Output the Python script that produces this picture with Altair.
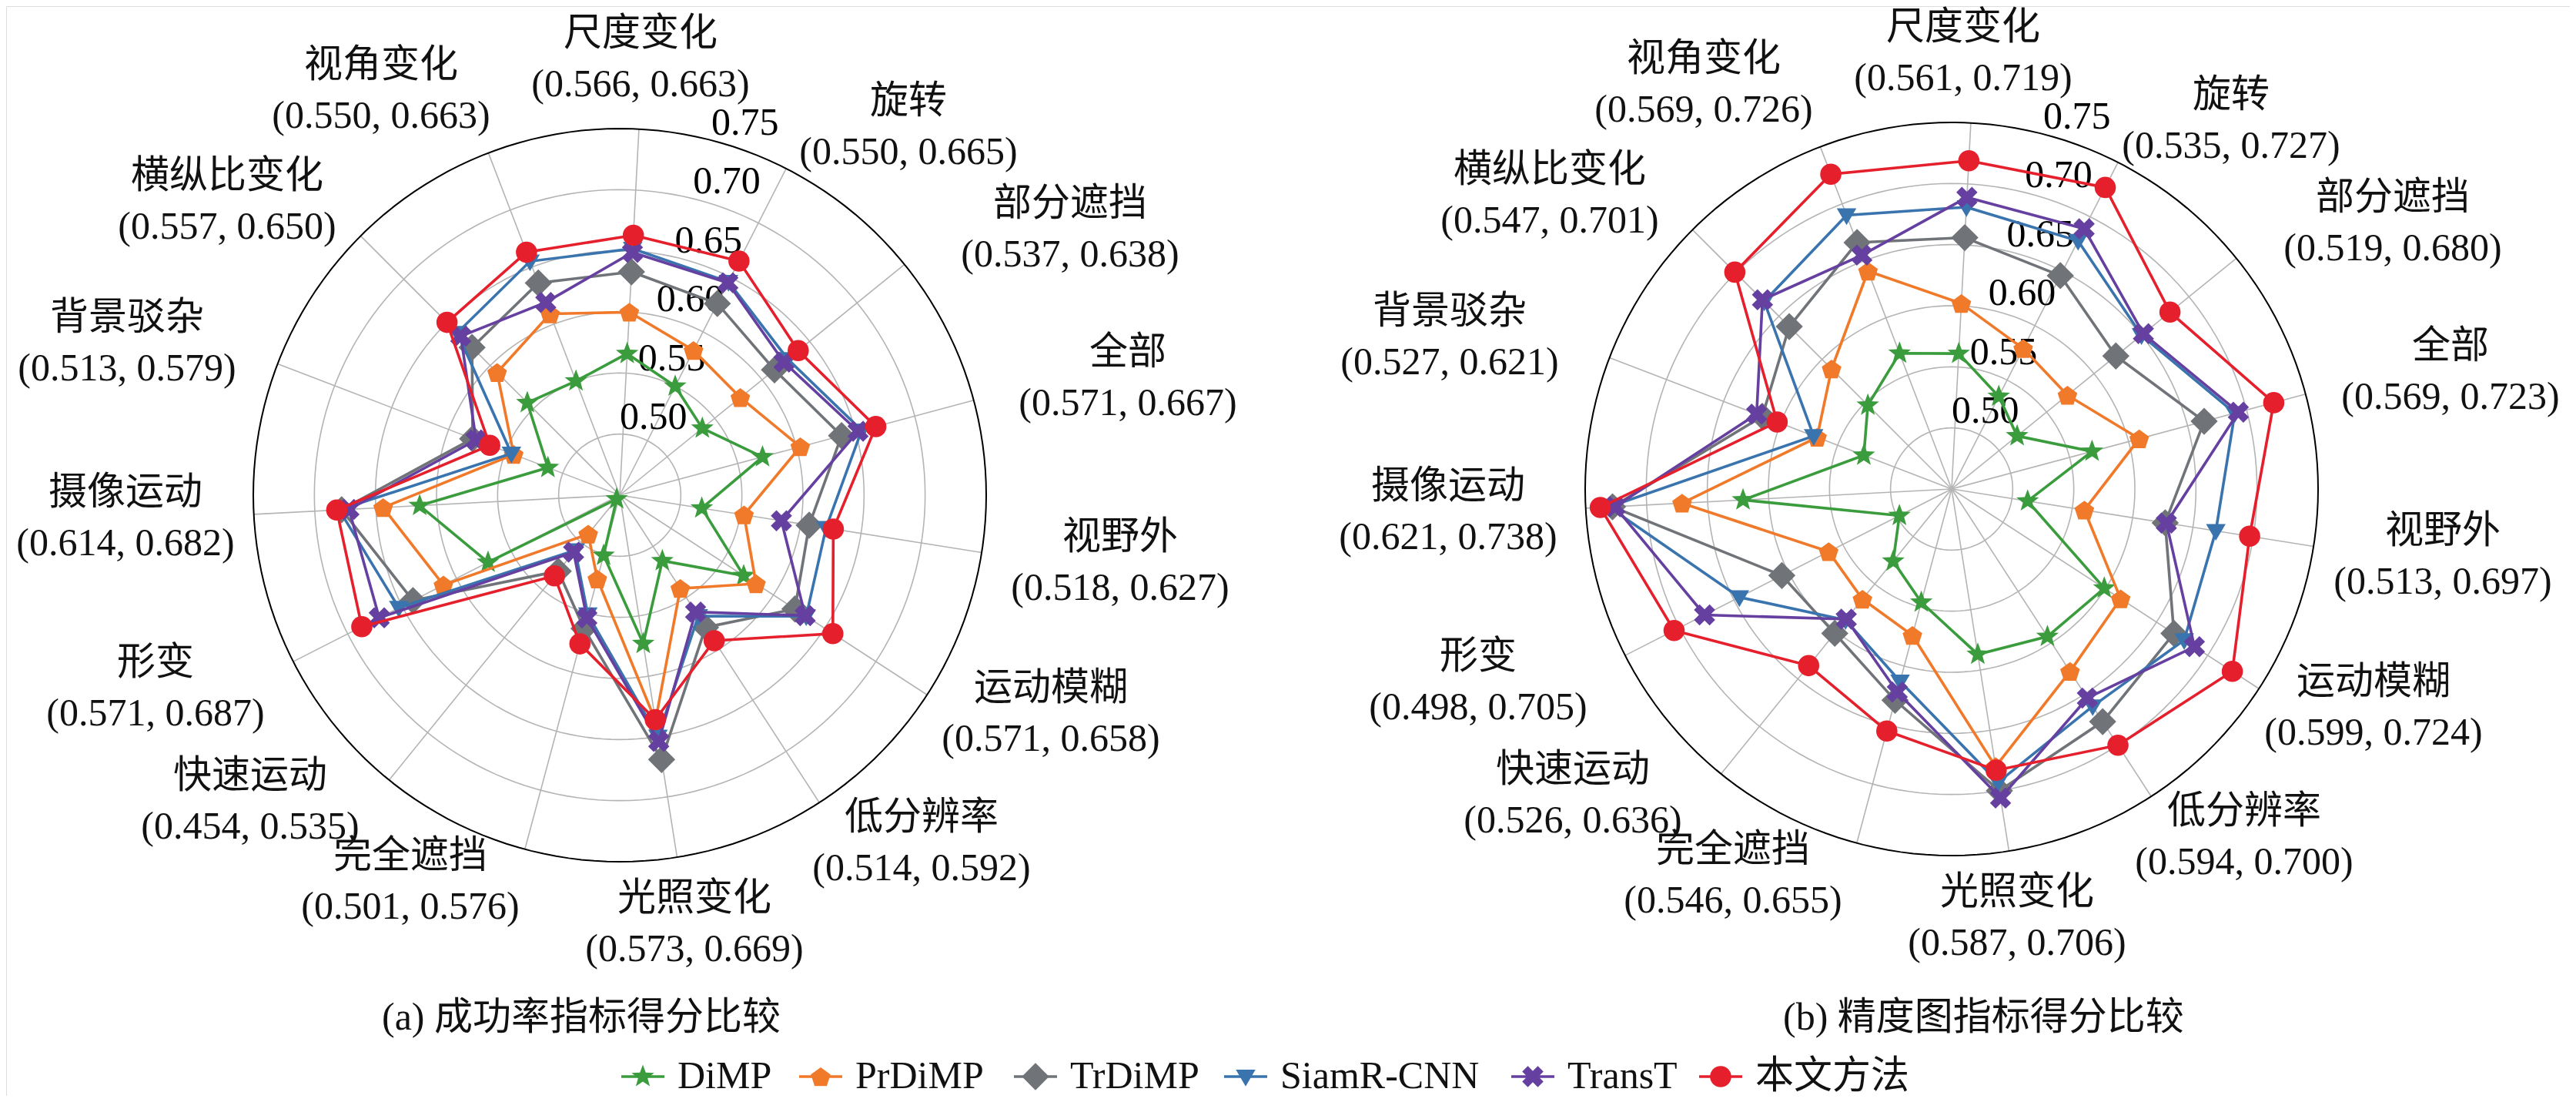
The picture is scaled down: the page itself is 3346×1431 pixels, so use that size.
import math
import altair as alt
import pandas as pd

# ---------------- data ----------------
axes_names = ["尺度变化", "旋转", "部分遮挡", "全部", "视野外", "运动模糊", "低分辨率",
              "光照变化", "完全遮挡", "快速运动", "形变", "摄像运动", "背景驳杂", "横纵比变化", "视角变化"]
ranges_a = ["(0.566, 0.663)", "(0.550, 0.665)", "(0.537, 0.638)", "(0.571, 0.667)", "(0.518, 0.627)",
            "(0.571, 0.658)", "(0.514, 0.592)", "(0.573, 0.669)", "(0.501, 0.576)", "(0.454, 0.535)",
            "(0.571, 0.687)", "(0.614, 0.682)", "(0.513, 0.579)", "(0.557, 0.650)", "(0.550, 0.663)"]
ranges_b = ["(0.561, 0.719)", "(0.535, 0.727)", "(0.519, 0.680)", "(0.569, 0.723)", "(0.513, 0.697)",
            "(0.599, 0.724)", "(0.594, 0.700)", "(0.587, 0.706)", "(0.546, 0.655)", "(0.526, 0.636)",
            "(0.498, 0.705)", "(0.621, 0.738)", "(0.527, 0.621)", "(0.547, 0.701)", "(0.569, 0.726)"]
methods = ["DiMP", "PrDiMP", "TrDiMP", "SiamR-CNN", "TransT", "本文方法"]

# (a) success-rate scores
a_dimp   = [0.566, 0.550, 0.537, 0.571, 0.518, 0.571, 0.514, 0.573, 0.501, 0.454, 0.571, 0.614, 0.513, 0.557, 0.550]
a_prdimp = [0.600, 0.583, 0.577, 0.603, 0.553, 0.583, 0.541, 0.637, 0.521, 0.491, 0.612, 0.644, 0.543, 0.592, 0.609]
a_trdimp = [0.633, 0.626, 0.613, 0.638, 0.607, 0.621, 0.579, 0.669, 0.563, 0.530, 0.640, 0.678, 0.579, 0.621, 0.636]
a_siamr  = [0.652, 0.646, 0.627, 0.655, 0.621, 0.632, 0.568, 0.650, 0.551, 0.508, 0.653, 0.680, 0.545, 0.638, 0.655]
a_transt = [0.649, 0.645, 0.623, 0.652, 0.584, 0.631, 0.564, 0.654, 0.554, 0.510, 0.671, 0.672, 0.576, 0.634, 0.619]
a_ours   = [0.663, 0.665, 0.638, 0.667, 0.627, 0.658, 0.592, 0.636, 0.576, 0.535, 0.687, 0.682, 0.564, 0.650, 0.663]

# (b) precision scores
b_dimp   = [0.561, 0.535, 0.519, 0.569, 0.513, 0.599, 0.594, 0.587, 0.546, 0.526, 0.498, 0.621, 0.527, 0.547, 0.569]
b_prdimp = [0.602, 0.579, 0.572, 0.609, 0.560, 0.615, 0.628, 0.680, 0.574, 0.566, 0.563, 0.671, 0.568, 0.589, 0.641]
b_trdimp = [0.656, 0.646, 0.623, 0.664, 0.627, 0.667, 0.677, 0.700, 0.629, 0.602, 0.606, 0.728, 0.616, 0.638, 0.666]
b_siamr  = [0.681, 0.678, 0.650, 0.690, 0.669, 0.677, 0.662, 0.693, 0.613, 0.588, 0.645, 0.731, 0.571, 0.667, 0.690]
b_transt = [0.689, 0.689, 0.652, 0.693, 0.628, 0.687, 0.654, 0.706, 0.622, 0.587, 0.677, 0.726, 0.621, 0.669, 0.655]
b_ours   = [0.719, 0.727, 0.680, 0.723, 0.697, 0.724, 0.700, 0.683, 0.655, 0.636, 0.705, 0.738, 0.603, 0.701, 0.726]

ring_ticks = [0.50, 0.55, 0.60, 0.65, 0.70, 0.75]
panel_titles = ["(a)    成功率指标得分比较", "(b)    精度图指标得分比较"]

# ---------------- layout / style ----------------
R_MIN, R_MAX = 0.45, 0.75
RADIUS = 476.0
ROT = 3.0
STEP = 360.0 / len(axes_names)
CENTERS = {"a": (805.0, 643.0), "b": (2535.0, 635.0)}
LABEL_SHIFT = {"a": 0, "b": -12}
# label block centre offsets from the panel centre (px)
lab_dx = [27, 375, 585, 660, 650, 560, 392, 97, -272, -480, -603, -642, -640, -510, -310]
lab_dy = [-566, -478, -345, -152, 88, 284, 452, 557, 502, 398, 251, 30, -197, -381, -525]
title_left = {"a": 496, "b": 2316}
title_y = 1322
legend_x = [835, 1066, 1345, 1618, 1991, 2235]
legend_y = 1398

colors = ["#3a9c3d", "#f0792a", "#707479", "#3a74ae", "#6540a0", "#e5202c"]


def poly(points):
    return "M" + "L".join(f"{x:.3f},{y:.3f}" for x, y in points) + "Z"


star = poly([((1.0 if k % 2 == 0 else 0.42) * math.cos(-math.pi / 2 + k * math.pi / 5),
              (1.0 if k % 2 == 0 else 0.42) * math.sin(-math.pi / 2 + k * math.pi / 5)) for k in range(10)])
pentagon = poly([(math.cos(-math.pi / 2 + k * 2 * math.pi / 5), math.sin(-math.pi / 2 + k * 2 * math.pi / 5) + 0.1)
                 for k in range(5)])
diamond = "M0,-1L1,0L0,1L-1,0Z"
tri_down = "M-1,-0.7L1,-0.7L0,1Z"
w = 0.36
plus = [(w, -1), (w, -w), (1, -w), (1, w), (w, w), (w, 1), (-w, 1), (-w, w), (-1, w), (-1, -w), (-w, -w), (-w, -1)]
c45 = math.cos(math.pi / 4)
xshape = poly([((px - py) * c45, (px + py) * c45) for px, py in plus])
shapes = [star, pentagon, diamond, tri_down, xshape, "circle"]
sizes = [950, 720, 1250, 650, 820, 760]

FONT = "Liberation Serif, Noto Sans CJK SC"
FS = 50

# ---------------- tables ----------------
series = {"a": [a_dimp, a_prdimp, a_trdimp, a_siamr, a_transt, a_ours],
          "b": [b_dimp, b_prdimp, b_trdimp, b_siamr, b_transt, b_ours]}
rows = []
for p, lst in series.items():
    for m, vals in zip(methods, lst):
        for i, v in enumerate(vals):
            rows.append({"panel": p, "method": m, "idx": i, "value": v})
data = pd.DataFrame(rows)

ring_rows = []
for p in CENTERS:
    for t in ring_ticks:
        for k in range(180):
            ring_rows.append({"panel": p, "value": t, "idx": k * 2.0 / STEP - ROT / STEP, "k": k,
                              "outer": bool(t >= R_MAX - 1e-9)})
rings = pd.DataFrame(ring_rows)

spokes = pd.DataFrame([{"panel": p, "idx": i, "value": R_MAX} for p in CENTERS for i in range(len(axes_names))])
ticks = pd.DataFrame([{"panel": p, "value": t, "label": f"{t:.2f}"} for p in CENTERS for t in ring_ticks])

lab_rows = []
for p, rng in (("a", ranges_a), ("b", ranges_b)):
    cx, cy = CENTERS[p]
    for i, name in enumerate(axes_names):
        lab_rows.append({"x": cx + lab_dx[i] + LABEL_SHIFT[p], "y": cy + lab_dy[i], "text": name + "\n" + rng[i]})
labels = pd.DataFrame(lab_rows)

titles = pd.DataFrame([{"x": title_left[p], "y": title_y, "text": t}
                       for p, t in zip(["a", "b"], panel_titles)])
legend = pd.DataFrame([{"method": m, "x": legend_x[i], "y": legend_y} for i, m in enumerate(methods)])

# ---------------- helpers ----------------
XS = alt.Scale(domain=[8, 3338], nice=False, zero=False)
YS = alt.Scale(domain=[8, 1423], nice=False, zero=False, reverse=True)
X = alt.X("x:Q", scale=XS, axis=None)
Y = alt.Y("y:Q", scale=YS, axis=None)

cx_expr = f"datum.panel == 'a' ? {CENTERS['a'][0]} : {CENTERS['b'][0]}"
cy_expr = f"datum.panel == 'a' ? {CENTERS['a'][1]} : {CENTERS['b'][1]}"


def polar(chart):
    return chart.transform_calculate(
        ang=f"(datum.idx * {STEP} + {ROT}) * PI / 180",
        rad=f"(datum.value - {R_MIN}) / {R_MAX - R_MIN} * {RADIUS}",
        cx=cx_expr, cy=cy_expr,
    ).transform_calculate(
        x="datum.cx + datum.rad * sin(datum.ang)",
        y="datum.cy - datum.rad * cos(datum.ang)",
        grp="datum.panel + '_' + datum.value",
    )


layers = []

ring_base = polar(alt.Chart(rings))
layers.append(ring_base.transform_filter("!datum.outer").mark_line(
    interpolate="linear-closed", color="#b4b4b4", strokeWidth=1.6).encode(
    x=X, y=Y, detail="grp:N", order=alt.Order("k:Q")))

sp = alt.Chart(spokes).transform_calculate(
    ang=f"(datum.idx * {STEP} + {ROT}) * PI / 180", cx=cx_expr, cy=cy_expr).transform_calculate(
    x="datum.cx", y="datum.cy",
    x2=f"datum.cx + {RADIUS} * sin(datum.ang)", y2=f"datum.cy - {RADIUS} * cos(datum.ang)")
layers.append(sp.mark_rule(color="#b4b4b4", strokeWidth=1.6).encode(x=X, y=Y, x2="x2:Q", y2="y2:Q"))

layers.append(ring_base.transform_filter("datum.outer").mark_line(
    interpolate="linear-closed", color="#000000", strokeWidth=2).encode(
    x=X, y=Y, detail="grp:N", order=alt.Order("k:Q")))

# radial tick labels, placed just outside each ring near the 17 degree direction
tk = alt.Chart(ticks).transform_calculate(
    rad=f"(datum.value - {R_MIN}) / {R_MAX - R_MIN} * {RADIUS}",
    cx=cx_expr, cy=cy_expr).transform_calculate(
    x="datum.cx + 20 + 0.3 * datum.rad", y="datum.cy - 24 - 0.965 * datum.rad")
layers.append(tk.mark_text(font=FONT, fontSize=FS, color="#000000", align="center",
                           baseline="middle").encode(x=X, y=Y, text="label:N"))

for i, m in enumerate(methods):
    base = polar(alt.Chart(data).transform_filter(alt.datum.method == m))
    layers.append(base.mark_line(interpolate="linear-closed", color=colors[i], strokeWidth=3.6).encode(
        x=X, y=Y, detail="panel:N", order=alt.Order("idx:Q")))
    layers.append(base.mark_point(filled=True, opacity=1, color=colors[i], shape=shapes[i],
                                  size=sizes[i], strokeWidth=0).encode(x=X, y=Y))

layers.append(alt.Chart(labels).mark_text(font=FONT, fontSize=FS, lineBreak="\n", lineHeight=66, dy=-33,
                                          align="center", baseline="middle", color="#111111").encode(
    x=X, y=Y, text="text:N"))

layers.append(alt.Chart(titles).mark_text(font=FONT, fontSize=FS, align="left", baseline="middle",
                                          color="#111111").encode(x=X, y=Y, text="text:N"))

for i, m in enumerate(methods):
    lg = alt.Chart(legend).transform_filter(alt.datum.method == m)
    layers.append(lg.transform_calculate(xa="datum.x - 28", xb="datum.x + 28").mark_rule(
        color=colors[i], strokeWidth=3.6).encode(x=alt.X("xa:Q", scale=XS, axis=None), x2="xb:Q", y=Y))
    layers.append(lg.mark_point(filled=True, opacity=1, color=colors[i], shape=shapes[i],
                                size=sizes[i], strokeWidth=0).encode(x=X, y=Y))
    layers.append(lg.transform_calculate(xt="datum.x + 45").mark_text(
        font=FONT, fontSize=FS, align="left", baseline="middle", color="#111111").encode(
        x=alt.X("xt:Q", scale=XS, axis=None), y=Y, text="method:N"))

chart = alt.layer(*layers).properties(
    width=3330, height=1415, padding=0,
    autosize=alt.AutoSizeParams(type="none"),
).configure_view(stroke=None).configure(background="white")

chart.save("out.html", embed_options={"renderer": "svg", "actions": False})
